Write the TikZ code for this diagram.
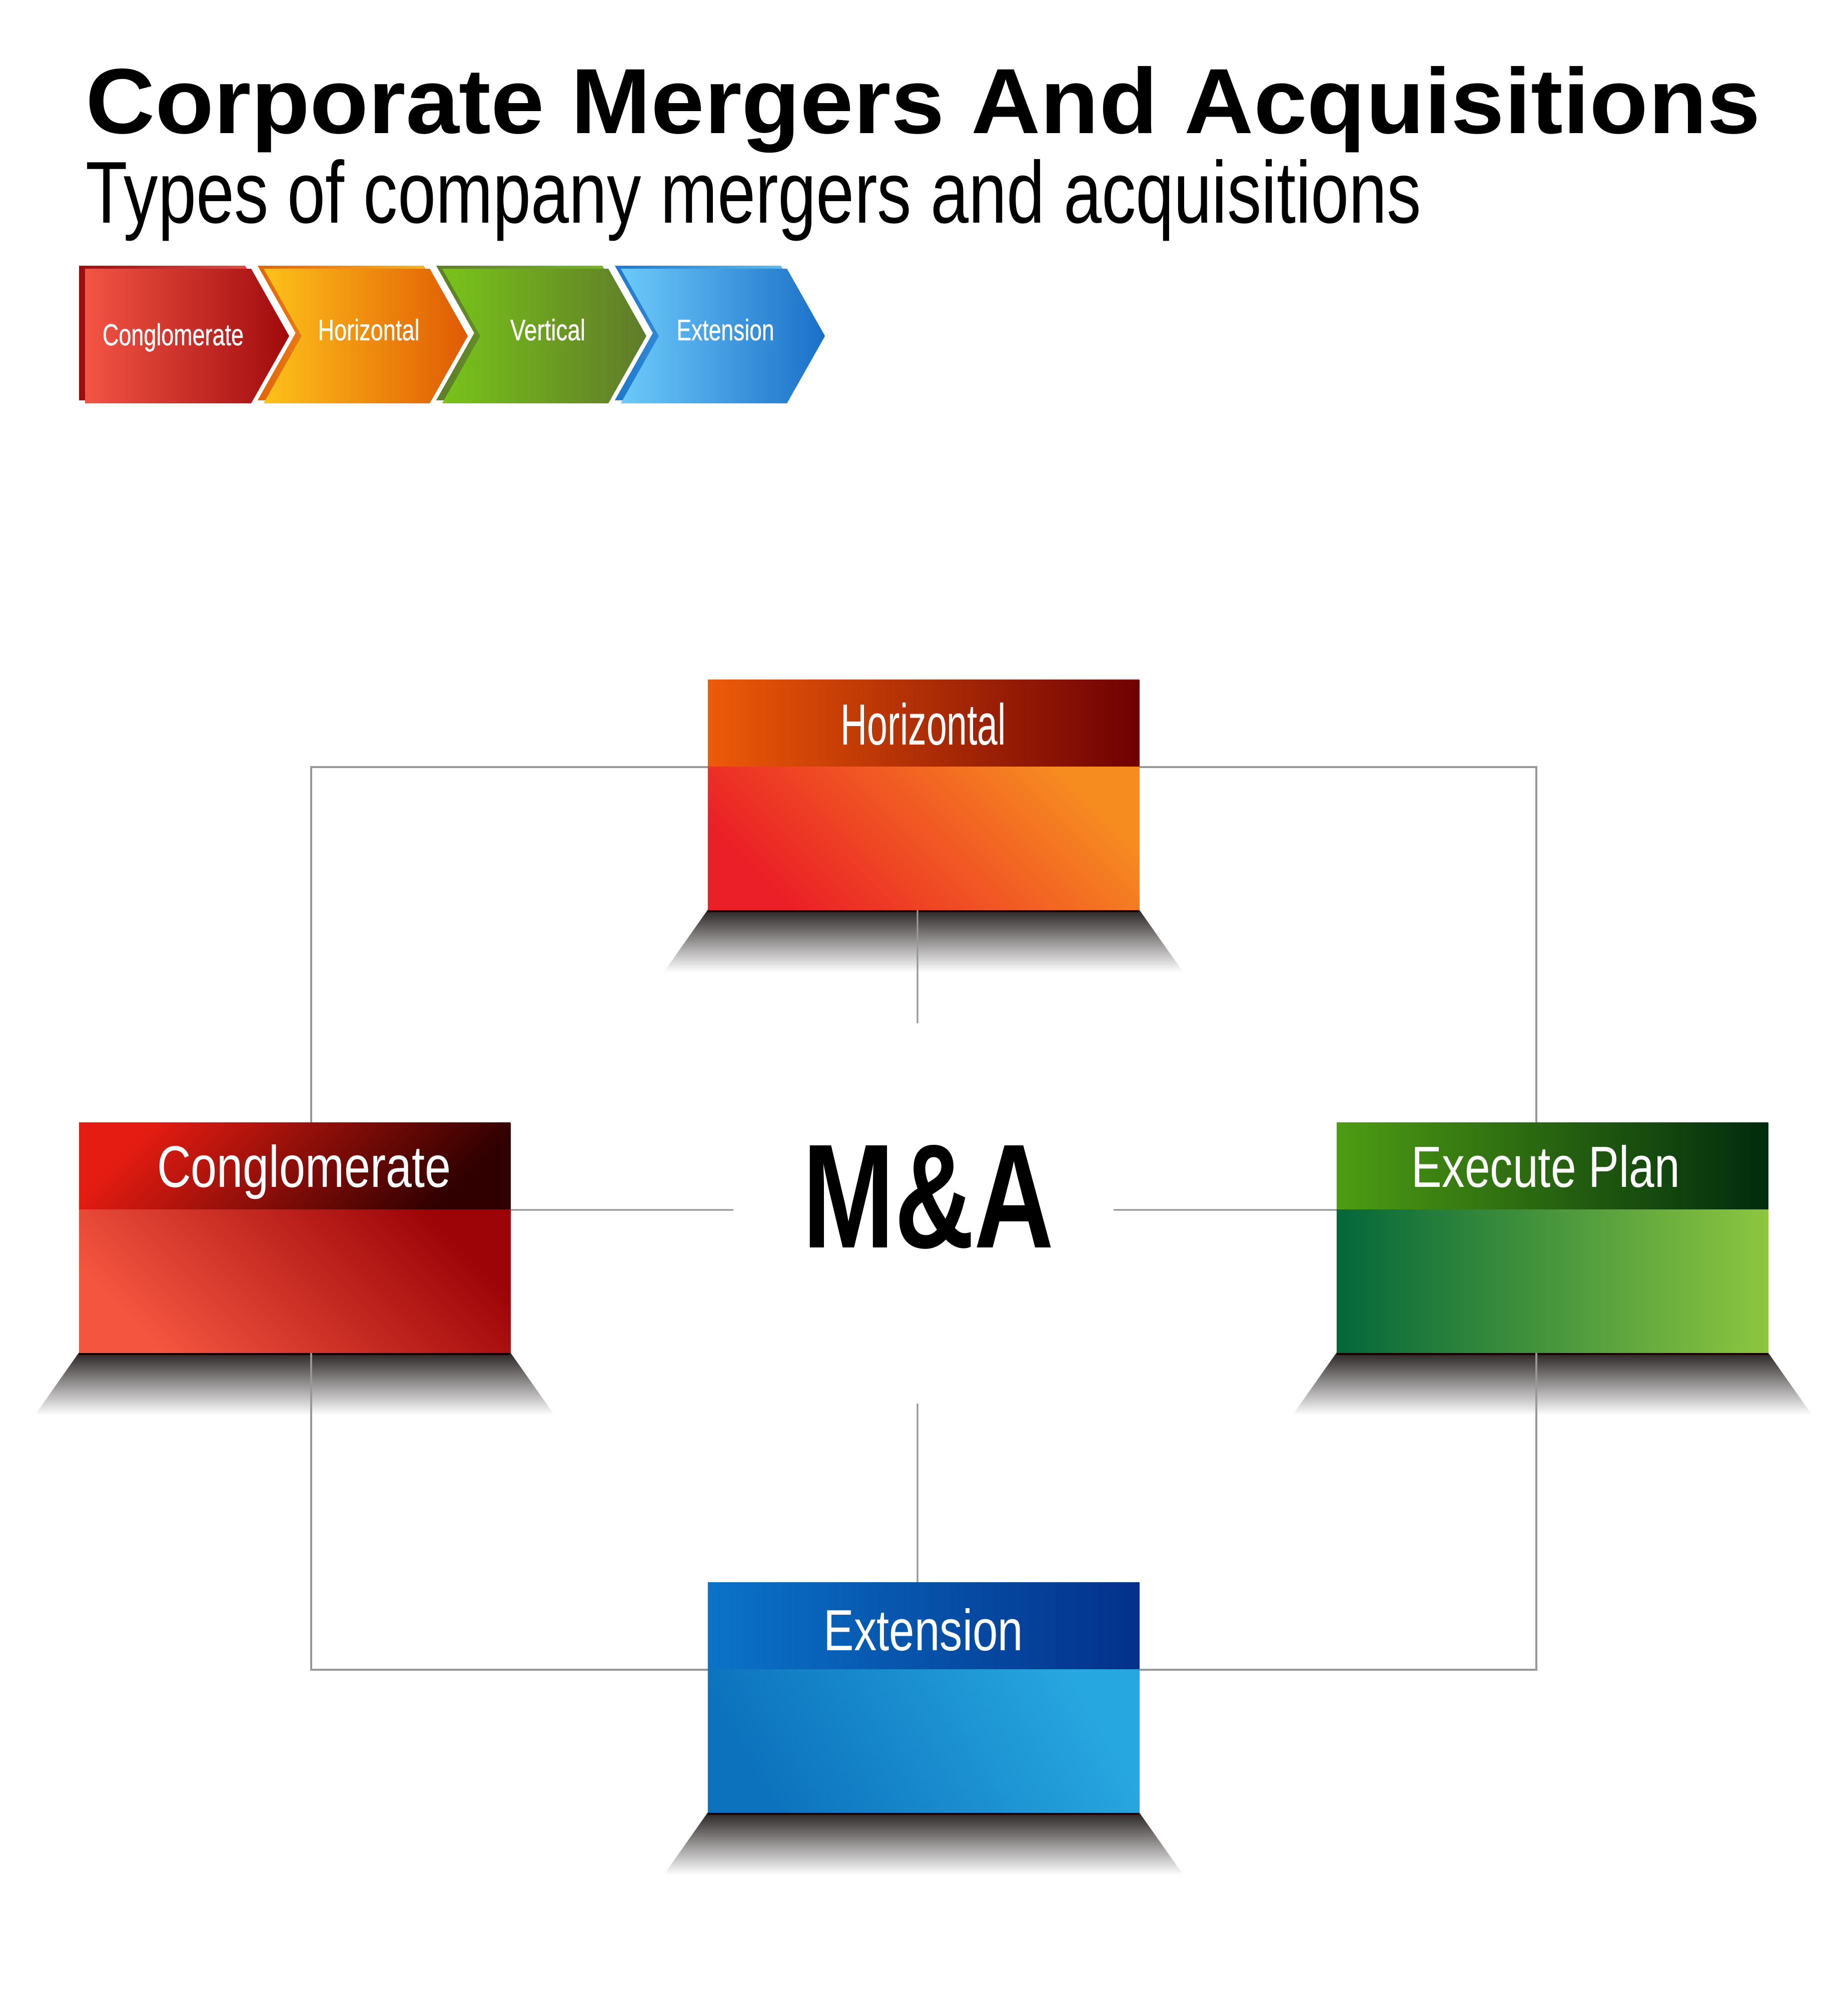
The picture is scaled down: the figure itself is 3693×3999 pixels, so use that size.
\documentclass[tikz,border=0pt]{standalone}
\usepackage{fontspec}
\setmainfont{Liberation Sans}
\newfontfamily\chevfont{Liberation Sans}[FakeBold=0.6]
\usepackage{graphicx}
\usetikzlibrary{calc}
% chevron colours
\definecolor{c1L}{HTML}{F35545}\definecolor{c1R}{HTML}{A00B0D}
\definecolor{c1bL}{HTML}{9C0C0E}\definecolor{c1bR}{HTML}{F05A50}
\definecolor{c2L}{HTML}{FDC11A}\definecolor{c2R}{HTML}{E05A04}
\definecolor{c2bL}{HTML}{E2650A}\definecolor{c2bR}{HTML}{FCC12A}
\definecolor{c3L}{HTML}{78C31A}\definecolor{c3R}{HTML}{617B2A}
\definecolor{c3bL}{HTML}{5E7D28}\definecolor{c3bR}{HTML}{7CC22A}
\definecolor{c4L}{HTML}{6DCAFA}\definecolor{c4R}{HTML}{1A70C8}
\definecolor{c4bL}{HTML}{1E78CC}\definecolor{c4bR}{HTML}{6CC6F6}
% box colours
\definecolor{hzHL}{HTML}{EE5B08}\definecolor{hzHR}{HTML}{6F0003}
\definecolor{hzBT}{HTML}{F68B20}\definecolor{hzBB}{HTML}{EB1F27}
\definecolor{cgHT}{HTML}{E41C12}\definecolor{cgHM}{HTML}{5E0202}\definecolor{cgHB}{HTML}{300000}
\definecolor{cgBT}{HTML}{9D0407}\definecolor{cgBB}{HTML}{F3553F}
\definecolor{exHL}{HTML}{4E9C14}\definecolor{exHR}{HTML}{012B0D}
\definecolor{exBL}{HTML}{04673A}\definecolor{exBR}{HTML}{8DC63F}
\definecolor{etHL}{HTML}{0B73C9}\definecolor{etHR}{HTML}{03308A}
\definecolor{etBT}{HTML}{27A7E0}\definecolor{etBB}{HTML}{0C72BD}
\definecolor{shtop}{HTML}{2A2424}\definecolor{shmid}{HTML}{C6C6C6}
\definecolor{connc}{HTML}{989898}
\tikzset{
  boxn/.style={minimum width=8.62cm, minimum height=4.59cm, inner sep=0pt, outer sep=0pt, draw=none},
  lbl/.style={anchor=base, inner sep=0pt, text=white},
  conn/.style={draw=connc, line width=0.034cm},
}
\newcommand\chevnotch[5]{%
  \shade[left color=#2, right color=#3] (#1-12,531) -- (#1+320,531) -- (#1+396,665.5) -- (#1+320,800) -- (#1-12,800) -- (#1+64,665.5) -- cycle;
  \shade[left color=#4, right color=#5] (#1,537) -- (#1+332,537) -- (#1+408,671.5) -- (#1+332,806) -- (#1,806) -- (#1+76,671.5) -- cycle;
}
\newcommand\mashadow[1]{%
  \shade[top color=shtop, middle color=shmid, bottom color=white] (#1.south west) -- (#1.south east) -- ($(#1.south east)+(88,125)$) -- ($(#1.south west)+(-88,125)$) -- cycle;
  \fill[black!90!red] (#1.south west) rectangle ($(#1.south east)+(0,5)$);
}
\newcommand\mabox[3]{%
  \shade[#2] (#1.north west) rectangle ($(#1.north east)+(0,174)$);
  \shade[#3] ($(#1.north west)+(0,174)$) rectangle (#1.south east);
}
\begin{document}
\begin{tikzpicture}[x=0.01cm, y=-0.01cm]
\useasboundingbox (0,0) rectangle (3693,3999);
\fill[white] (0,0) rectangle (3693,3999);

% title
\node[anchor=base west, inner sep=0pt] (title) at (171,266) {\resizebox{33.45cm}{1.34cm}{\bfseries Corporate Mergers And Acquisitions}};
\node[anchor=base west, inner sep=0pt] (sub) at (171,445) {\resizebox{26.68cm}{1.27cm}{Types of company mergers and acquisitions}};

% chevrons
\shade[left color=c1bL, right color=c1bR] (158,531) -- (490,531) -- (566,665.5) -- (490,800) -- (158,800) -- cycle;
\shade[left color=c1L, right color=c1R] (170,537) -- (502,537) -- (578,671.5) -- (502,806) -- (170,806) -- cycle;
\chevnotch{527}{c2bL}{c2bR}{c2L}{c2R}
\chevnotch{884}{c3bL}{c3bR}{c3L}{c3R}
\chevnotch{1241}{c4bL}{c4bR}{c4L}{c4R}
\node[lbl] (ch1) at (346,690) {\resizebox{2.82cm}{0.44cm}{\chevfont Conglomerate}};
\node[lbl] (ch2) at (737,680) {\resizebox{2.03cm}{0.43cm}{\chevfont Horizontal}};
\node[lbl] (ch3) at (1095,680) {\resizebox{1.50cm}{0.43cm}{\chevfont Vertical}};
\node[lbl] (ch4) at (1450,680) {\resizebox{1.95cm}{0.43cm}{\chevfont Extension}};

% box placeholders
\node[boxn] (hz) at (1846,1588.5) {};
\node[boxn] (cg) at (589,2473.5) {};
\node[boxn] (ex) at (3103,2473.5) {};
\node[boxn] (et) at (1846,3392.5) {};
\coordinate (maN) at (1834,2045);
\coordinate (maS) at (1834,2805);
\coordinate (maW) at (1466,2418);
\coordinate (maE) at (2226,2418);

% shadows
\mashadow{hz}
\mashadow{cg}
\mashadow{ex}
\mashadow{et}

% connectors
\draw[conn] ([yshift=0.555cm]hz.west) -| ([xshift=0.33cm]cg.north);
\draw[conn] ([yshift=0.555cm]hz.east) -| ([xshift=-0.32cm]ex.north);
\draw[conn] ([yshift=0.555cm]et.west) -| ([xshift=0.33cm]cg.south);
\draw[conn] ([yshift=0.555cm]et.east) -| ([xshift=-0.32cm]ex.south);
\draw[conn] ([xshift=-0.12cm]hz.south) -- (maN);
\draw[conn] (maS) -- ([xshift=-0.12cm]et.north);
\draw[conn] ([yshift=0.555cm]cg.east) -- (maW);
\draw[conn] (maE) -- ([yshift=0.555cm]ex.west);

% boxes
\mabox{hz}{left color=hzHL, right color=hzHR}{top color=hzBT, bottom color=hzBB, shading angle=-45}
\mabox{cg}{top color=cgHT, middle color=cgHM, bottom color=cgHB, shading angle=45}{top color=cgBT, bottom color=cgBB, shading angle=-45}
\mabox{ex}{left color=exHL, right color=exHR}{left color=exBL, right color=exBR}
\mabox{et}{left color=etHL, right color=etHR}{top color=etBT, bottom color=etBB, shading angle=-60}

\node[lbl] (hzT) at (1846,1488) {\resizebox{3.30cm}{0.84cm}{Horizontal}};
\node[lbl] (cgT) at (608,2372) {\resizebox{5.87cm}{0.85cm}{Conglomerate}};
\node[lbl] (exT) at (3090,2372) {\resizebox{5.36cm}{0.84cm}{Execute Plan}};
\node[lbl] (etT) at (1846,3298) {\resizebox{3.98cm}{0.84cm}{Extension}};

\node[anchor=base, inner sep=0pt] (maT) at (1856,2493) {\resizebox{5.02cm}{2.05cm}{\bfseries M\&A}};
\end{tikzpicture}
\end{document}
